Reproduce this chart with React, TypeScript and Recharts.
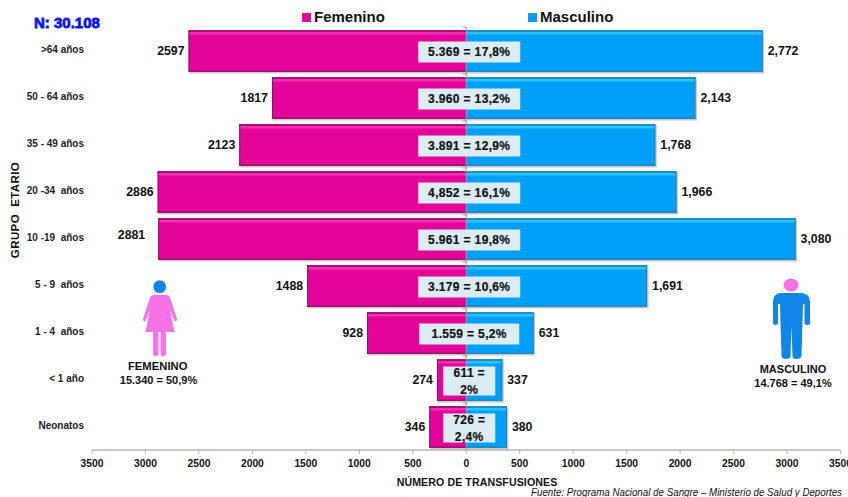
import React from "react";
import { BarChart, Bar, XAxis, YAxis, LabelList, ReferenceLine, Legend } from "recharts";

const categories = [">64 años", "50 - 64 años", "35 - 49 años", "20 -34  años", "10 -19  años", "5 - 9  años", "1 - 4  años", "< 1 año", "Neonatos"];
const femenino = [2597, 1817, 2123, 2886, 2881, 1488, 928, 274, 346];
const masculino = [2772, 2143, 1768, 1966, 3080, 1691, 631, 337, 380];
const masculinoLabels = ["2,772", "2,143", "1,768", "1,966", "3,080", "1,691", "631", "337", "380"];
const totals = [["5.369 = 17,8%"], ["3.960 = 13,2%"], ["3.891 = 12,9%"], ["4,852 = 16,1%"], ["5.961 = 19,8%"], ["3.179 = 10,6%"], ["1.559 = 5,2%"], ["611 =", "2%"], ["726 =", "2,4%"]];
const xTicks = [-3500, -3000, -2500, -2000, -1500, -1000, -500, 0, 500, 1000, 1500, 2000, 2500, 3000, 3500];

const data = categories.map((c, i) => ({ c, f: -femenino[i], m: masculino[i] }));
const FONT = "'Liberation Sans', Arial, sans-serif";

const makeBar = (main: string, light: string, edge: string, left: boolean) => (p: any) => {
  const x = Math.min(p.x, p.x + p.width);
  const w = Math.abs(p.width);
  const { y, height: h } = p;
  return (
    <g>
      <rect x={x + 1} y={y + 1.5} width={w + 0.5} height={h} fill="#9a9a9a" opacity={0.55} />
      <rect x={x} y={y} width={w} height={h} fill={main} />
      <rect x={x} y={y + 0.5} width={w} height={1.5} fill={edge} opacity={0.7} />
      <rect x={x} y={y + 2} width={w} height={2.5} fill={light} />
      <rect x={x} y={y + h - 1.5} width={w} height={1.5} fill={edge} opacity={0.7} />
      <rect x={left ? x : x + w - 1} y={y} width={1} height={h} fill={edge} />
    </g>
  );
};

const OuterF = (p: any) => {
  const i = p.index;
  const shift = femenino[i] === 2881 ? [-9, -4] : [0, 0];
  return (
    <text x={p.x + p.width - 4 + shift[0]} y={p.y + p.height / 2 + 1 + shift[1]} textAnchor="end" dominantBaseline="middle" fontFamily={FONT} fontSize={12.3} fontWeight={700} fill="#111">
      {femenino[i]}
    </text>
  );
};

const OuterM = (p: any) => (
  <text x={p.x + p.width + 5} y={p.y + p.height / 2 + 1} textAnchor="start" dominantBaseline="middle" fontFamily={FONT} fontSize={12.3} fontWeight={700} fill="#111">
    {masculinoLabels[p.index]}
  </text>
);

const Center = (p: any) => {
  const lines = totals[p.index];
  const cx = p.x + 3;
  const cy = p.y + p.height / 2 + 1;
  const two = lines.length > 1;
  const w = two ? 52 : lines[0].length === 12 ? 100 : 102;
  const h = two ? 29 : 21;
  return (
    <g>
      <rect x={cx - w / 2} y={cy - h / 2} width={w} height={h} fill="#DCECF3" />
      {lines.map((t, k) => (
        <text key={k} x={cx} y={two ? cy + (k === 0 ? -7 : 10) : cy + 1} textAnchor="middle" dominantBaseline="middle" fontFamily={FONT} fontSize={12} fontWeight={700} fill="#111" stroke="#111" strokeWidth={0.2} letterSpacing={0.35}>
          {t}
        </text>
      ))}
    </g>
  );
};

const YTick = (p: any) => (
  <g>
    <text x={84} y={p.y} textAnchor="end" dominantBaseline="middle" fontFamily={FONT} fontSize={10} fontWeight={700} fill="#222" xmlSpace="preserve">
      {p.payload.value}
    </text>
    <line x1={462.5} x2={466.5} y1={p.y - 23.5} y2={p.y - 23.5} stroke="#999" />
  </g>
);

const LegendBox = () => (
  <div style={{ position: "relative", width: 848, height: 24, fontFamily: FONT, fontWeight: 700, fontSize: 15, color: "#111" }}>
    <span style={{ position: "absolute", left: 302, top: 13, width: 9, height: 9, background: "#D9119A" }} />
    <span style={{ position: "absolute", left: 314, top: 8 }}>Femenino</span>
    <span style={{ position: "absolute", left: 528, top: 13, width: 9, height: 9, background: "#0D9BEE" }} />
    <span style={{ position: "absolute", left: 540, top: 8 }}>Masculino</span>
  </div>
);

const Txt = (p: any) => <text fontFamily={FONT} fontWeight={700} fill="#111" textAnchor="middle" {...p} />;

export default function App() {
  return (
    <div style={{ position: "fixed", left: 0, top: 0, width: 848, height: 497, background: "#fff" }}>
      <BarChart width={848} height={497} data={data} layout="vertical" stackOffset="sign" barSize={42} margin={{ top: 3, right: 7.5, bottom: 17, left: 0 }}>
        <XAxis type="number" domain={[-3500, 3500]} ticks={xTicks} interval={0} height={30} tickFormatter={(v: number) => String(Math.abs(v))} tick={{ fontFamily: FONT, fontSize: 10.3, fontWeight: 700, fill: "#111", dy: 3 }} tickSize={4} tickMargin={3} axisLine={{ stroke: "#B4B4B4", strokeWidth: 1.5 }} tickLine={{ stroke: "#B4B4B4" }} />
        <YAxis type="category" dataKey="c" width={92} interval={0} axisLine={false} tickLine={false} tick={<YTick />} />
        <Legend verticalAlign="top" align="left" wrapperStyle={{ left: 0, top: 0, width: 848 }} content={<LegendBox />} />
        <ReferenceLine x={0} stroke="#999" />
        <Bar dataKey="f" stackId="s" isAnimationActive={false} shape={makeBar("#E5049A", "#F032B2", "#7A1A5C", true)}>
          <LabelList dataKey="f" content={<OuterF />} />
        </Bar>
        <Bar dataKey="m" stackId="s" isAnimationActive={false} shape={makeBar("#00A0F9", "#2CC4F2", "#2F7EA8", false)}>
          <LabelList dataKey="m" content={<OuterM />} />
          <LabelList dataKey="m" content={<Center />} />
        </Bar>

        <text x={34} y={28} fontFamily={FONT} fontSize={15} fontWeight={700} fill="#0A14F0" stroke="#0A14F0" strokeWidth={0.8}>N: 30.108</text>
        <Txt x={0} y={0} fontSize={11.5} letterSpacing={0.4} transform="translate(19 210) rotate(-90)" xmlSpace="preserve">GRUPO  ETARIO</Txt>
        <Txt x={477} y={486} fontSize={10.6} letterSpacing={0.1}>NÚMERO DE TRANSFUSIONES</Txt>
        <text x={531} y={495.5} fontFamily={FONT} fontSize={11} fontStyle="italic" fill="#111" textLength={311} lengthAdjust="spacingAndGlyphs">Fuente: Programa Nacional de Sangre  – Ministerio de Salud y Deportes</text>

        <g>
          <circle cx={159.7} cy={286.7} r={6.4} fill="#0F86E6" />
          <path d="M153 295 L167 295 Q169.5 295.5 170.5 299 L177 319 Q177 322 174.5 321 L170 310 L174.5 332 L145.5 332 L150 310 L145.5 321 Q143 322 143 319 L149.5 299 Q150.5 295.5 153 295 Z" fill="#F772E6" />
          <rect x={153} y={331} width={5.5} height={25} rx={2.5} fill="#F772E6" />
          <rect x={160.5} y={331} width={5.5} height={25} rx={2.5} fill="#F772E6" />
          <Txt x={157.7} y={370} fontSize={11.3}>FEMENINO</Txt>
          <Txt x={158.5} y={384} fontSize={11}>15.340 = 50,9%</Txt>
          <ellipse cx={791} cy={285} rx={7.5} ry={6.5} fill="#F772E6" />
          <path d="M780 293 L802 293 Q810 294 810 302 L810 323 Q810 325 807 325 Q804.5 325 804.5 323 L804.5 304 L803 304 L801.5 356 Q801 359 796 359 Q792.5 359 792.5 356 L791.5 326 L790.5 356 Q790.5 359 786 359 Q782 359 781.5 356 L780 304 L778 304 L778 323 Q778 325 775.5 325 Q773 325 773 323 L773 302 Q773 294 780 293 Z" fill="#0F86E6" />
          <Txt x={793} y={373} fontSize={11}>MASCULINO</Txt>
          <Txt x={793} y={387} fontSize={11}>14.768 = 49,1%</Txt>
        </g>
      </BarChart>
    </div>
  );
}
